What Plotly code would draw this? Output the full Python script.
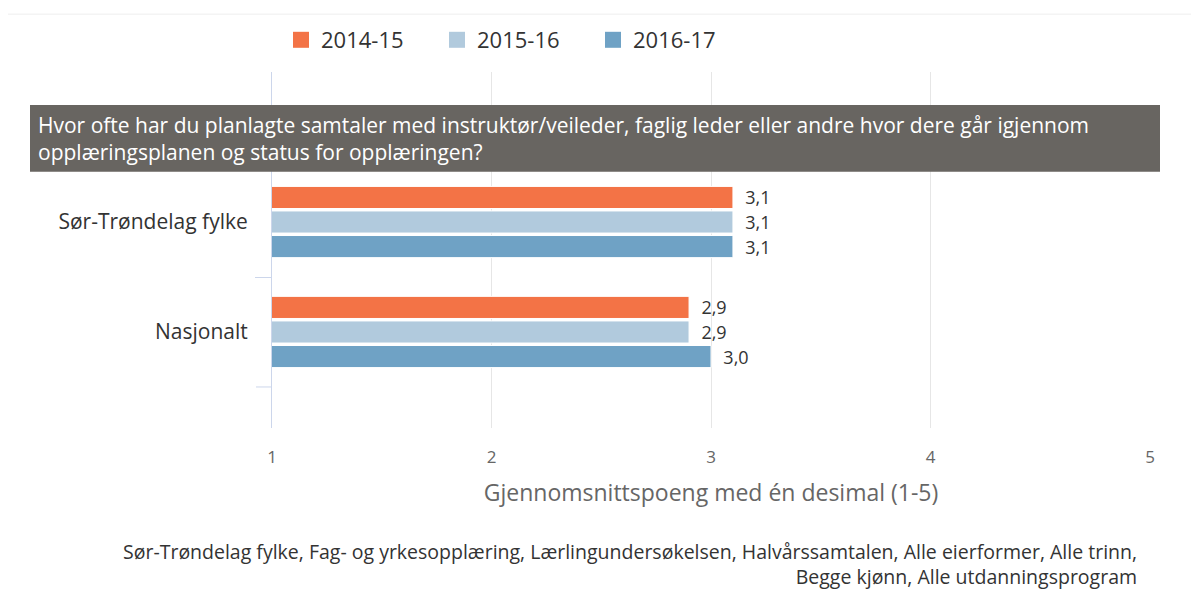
import plotly.graph_objects as go

QUESTION = ("Hvor ofte har du planlagte samtaler med instruktør/veileder, faglig leder eller andre hvor dere går igjennom<br>"
            "opplæringsplanen og status for opplæringen?")
FOOTER = ("Sør-Trøndelag fylke, Fag- og yrkesopplæring, Lærlingundersøkelsen, Halvårssamtalen, Alle eierformer, Alle trinn,<br>"
          "Begge kjønn, Alle utdanningsprogram")

categories = ['Sør-Trøndelag fylke', 'Nasjonalt']
years = ['2014-15', '2015-16', '2016-17']
v_2014_15 = [3.1, 2.9]
v_2015_16 = [3.1, 2.9]
v_2016_17 = [3.1, 3.0]
x_ticks = [1, 2, 3, 4, 5]

colors = ['#F37346', '#B1CADD', '#6FA2C5']
FONT = 'Open Sans, Noto Sans, sans-serif'

# the page body adds an 8px margin, so work in screen pixels and shift
OFF = 8
W, H = 1199 - OFF, 603 - OFF
L, R, T, B = 272 - OFF, 49, 71 - OFF, 175
pw, ph = W - L - R, H - T - B

def px_x(p):
    return (p - OFF - L) / pw

def px_y(p):
    return 1 - (p - OFF - T) / ph

fig = go.Figure()
for name, vals, c in zip(years, [v_2014_15, v_2015_16, v_2016_17], colors):
    fig.add_trace(go.Bar(
        y=categories, x=vals, name=name, orientation='h',
        marker=dict(color=c, line=dict(color='white', width=1)),
        texttemplate='  %{x:.1f}', textposition='outside', cliponaxis=False,
        constraintext='none',
        textfont=dict(family=FONT, size=18, color='#333333'),
        showlegend=False,
    ))
    # legend swatch
    fig.add_trace(go.Scatter(
        x=[None], y=[None], mode='markers', name=name,
        marker=dict(symbol='square', size=16, color=c),
    ))

fig.update_layout(
    width=W, height=H,
    margin=dict(l=L, r=R, t=T, b=B),
    paper_bgcolor='white', plot_bgcolor='white',
    separators=', ',
    barmode='group', bargap=0.33, bargroupgap=0.1,
    legend=dict(orientation='h', x=px_x(281), xanchor='left', y=px_y(40), yanchor='middle',
                font=dict(family=FONT, size=22, color='#333333'),
                entrywidth=111, itemsizing='trace'),
    showlegend=True,
)
fig.update_xaxes(
    range=[1, 5], tickvals=x_ticks, showgrid=True, gridcolor='#E6E6E6', gridwidth=1,
    zeroline=False, showline=False, ticks='outside', ticklen=14, tickcolor='rgba(0,0,0,0)',
    tickfont=dict(family=FONT, size=17, color='#666666'),
    title=dict(text='Gjennomsnittspoeng med én desimal (1-5)', standoff=17,
               font=dict(family=FONT, size=23, color='#666666')),
)
fig.update_yaxes(
    type='category', range=[1.873, -1.364], tickson='boundaries',
    showline=True, linecolor='#CCD6EB', linewidth=1,
    ticks='outside', ticklen=16, tickcolor='#CCD6EB', ticklabelstandoff=19,
    showgrid=False, zeroline=False,
    tickfont=dict(family=FONT, size=21, color='#333333'),
)

# closing category tick below the last group
fig.add_shape(type='line', xref='paper', yref='y', x0=px_x(256), x1=px_x(272),
              y0=len(categories) - 0.5, y1=len(categories) - 0.5,
              line=dict(color='#CCD6EB', width=1))

# outer frame
fig.add_shape(type='line', xref='paper', yref='paper', x0=px_x(0), x1=px_x(1199), y0=px_y(13), y1=px_y(13),
              line=dict(color='#EEEEEE', width=1))
fig.add_shape(type='line', xref='paper', yref='paper', x0=px_x(7), x1=px_x(7), y0=px_y(13), y1=px_y(603),
              line=dict(color='#EEEEEE', width=1))

# question box
fig.add_shape(type='rect', xref='paper', yref='paper', layer='above',
              x0=px_x(30), x1=px_x(1160), y0=px_y(171), y1=px_y(104),
              fillcolor='#686561', line=dict(width=0))
fig.add_annotation(text=QUESTION, xref='paper', yref='paper', x=px_x(36), y=px_y(138),
                   xanchor='left', yanchor='middle', align='left', showarrow=False,
                   font=dict(family=FONT, size=21, color='white'))

fig.add_annotation(text=FOOTER, xref='paper', yref='paper', x=px_x(1139), y=px_y(564),
                   xanchor='right', yanchor='middle', align='right', showarrow=False,
                   font=dict(family=FONT, size=19.5, color='#333333'))

fig.write_html("out.html")
